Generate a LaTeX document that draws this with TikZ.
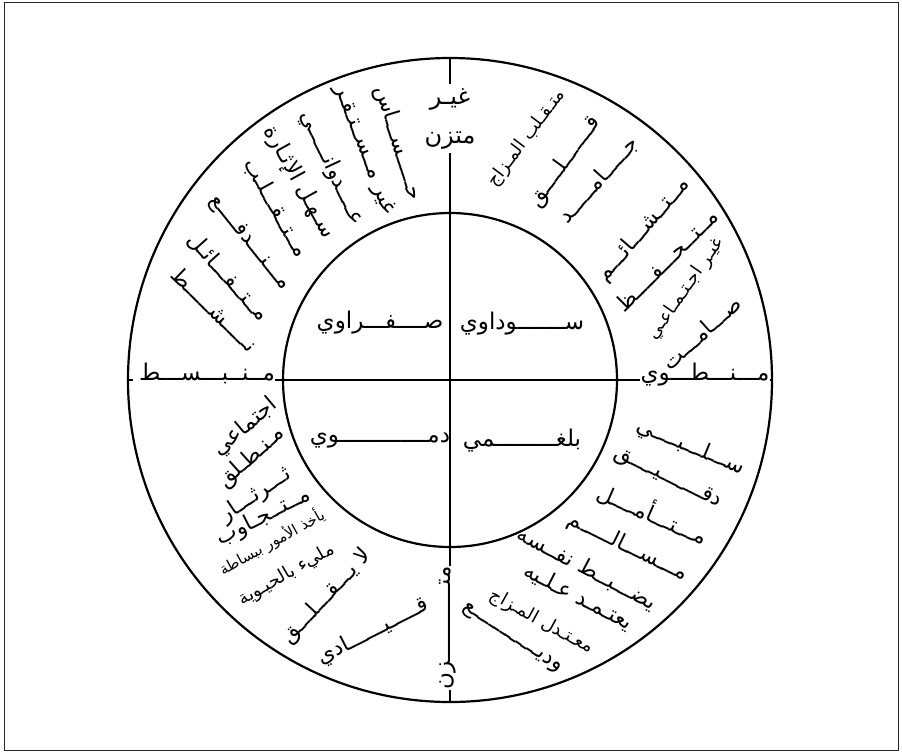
\documentclass[tikz,border=0pt]{standalone}
\usepackage{fontspec}
\newfontfamily\arfont[Script=Arabic]{DejaVu Sans}
\TeXXeTstate=1
\begin{document}
\begin{tikzpicture}[x=1pt,y=-1pt,
  ring/.style={draw, circle, line width=2.2pt, inner sep=0pt, outer sep=0pt},
  axis/.style={line width=1.8pt},
  wordA/.style={inner sep=0pt, font=\arfont\fontsize{22}{26}\selectfont},
  wordM/.style={inner sep=0pt, font=\arfont\fontsize{18}{22}\selectfont},
  wordS/.style={inner sep=0pt, font=\arfont\fontsize{15}{18}\selectfont},
  wordC/.style={inner sep=0pt, font=\arfont\fontsize{23}{27}\selectfont},
  wordT/.style={inner sep=0pt, font=\arfont\fontsize{24}{28}\selectfont},
]
\useasboundingbox (0,0) rectangle (902,753);
\draw[line width=1pt, black!85] (4,2) rectangle (898,750);

\node[ring, minimum size=644pt] (outer) at (450,380) {};
\node[ring, minimum size=334pt] (inner) at (450,380) {};

% axis labels
\node[wordT, anchor=base] (vt1) at (450,104) {\beginR غيـر\endR};
\node[wordT, anchor=base] (vt2) at (450,143) {\beginR متزن\endR};
\node[wordC, anchor=base, rotate=90] (vb) at (450,628) {\beginR متـــــــــــزن\endR};
\node[wordC, anchor=base] (hl) at (207,380) {\beginR مــنــبـــســـط\endR};
\node[wordC, anchor=base] (hr) at (705,380) {\beginR مـــنـــطـــوي\endR};

\draw[axis] (outer.north) -- ([yshift=4pt]vt1.north);
\draw[axis] ([yshift=-4pt]vt2.south) -- (vb.base east);
\draw[axis] (vb.base west) -- (outer.south);
\draw[axis] (outer.west) -- ([xshift=-6pt]hl.base west);
\draw[axis] (hl.base east) -- (hr.base west);
\draw[axis] (hr.base east) -- (outer.east);

% temperaments
\node[wordC] (q1) at (380,323) {\beginR صــــفـــراوي\endR};
\node[wordC] (q2) at (522,324) {\beginR ســـــــوداوي\endR};
\node[wordC] (q3) at (380,441) {\beginR دمـــــــــــــوي\endR};
\node[wordC] (q4) at (522,441) {\beginR بلغـــــــــمي\endR};

% top right
\node[wordM, rotate=53] (tr1) at (526.5,138.5) {\beginR متـقـلب المـزاج\endR};
\node[wordA, rotate=54] (tr2) at (565,161.5) {\beginR قـــــــلــــق\endR};
\node[wordA, rotate=48] (tr3) at (598.5,180) {\beginR جـــــامـــــد\endR};
\node[wordA, rotate=49] (tr4) at (643.5,230) {\beginR مــتــشـــائـــم\endR};
\node[wordA, rotate=45] (tr5) at (666.5,260) {\beginR مــتــحـــفــــظ\endR};
\node[wordM, rotate=55] (tr6) at (686,289) {\beginR غيـر اجـتـمـاعـي\endR};
\node[wordA, rotate=42] (tr7) at (701.5,332.5) {\beginR صـــامـــت\endR};

% top left
\node[wordA, rotate=-73] (tl1) at (398,143) {\beginR حـــــســـاس\endR};
\node[wordA, rotate=-69] (tl2) at (364,150) {\beginR غير مــســتـقـر\endR};
\node[wordA, rotate=-65] (tl3) at (332,168) {\beginR عــــدوانـــــي\endR};
\node[wordA, rotate=-61] (tl4) at (299,182) {\beginR سـهـل الإثـارة\endR};
\node[wordA, rotate=-61] (tl5) at (276,208) {\beginR مــتــقـــلـب\endR};
\node[wordA, rotate=-51] (tl6) at (250,243) {\beginR مـــنـــدفــــع\endR};
\node[wordA, rotate=-48] (tl7) at (228,277) {\beginR مــتــفـــائـل\endR};
\node[wordA, rotate=-44] (tl8) at (215,309) {\beginR نـــــشـــــط\endR};

% bottom left
\node[wordA, rotate=40] (bl1) at (245,427.5) {\beginR اجتماعي\endR};
\node[wordA, rotate=42] (bl2) at (251.7,457.5) {\beginR مـنـطـلق\endR};
\node[wordA, rotate=34] (bl3) at (255.8,495) {\beginR ثـــرثـــار\endR};
\node[wordA, rotate=27] (bl4) at (264,517) {\beginR مــتــجـاوب\endR};
\node[wordS, rotate=29] (bl5) at (271.7,541.7) {\beginR يأخذ الأمور ببساطة\endR};
\node[wordM, rotate=30] (bl6) at (286.7,575) {\beginR مليء بالحيـوية\endR};
\node[wordA, rotate=47] (bl7) at (326.7,596.7) {\beginR لا يـــقـــلـــق\endR};
\node[wordA, rotate=27] (bl8) at (373.3,631.7) {\beginR قـــــيــــــادي\endR};

% bottom right
\node[wordA, rotate=-22.6] (br1) at (691,447) {\beginR ســـلـــبــــي\endR};
\node[wordA, rotate=-25.8] (br2) at (668,478) {\beginR دقـــــــيــــق\endR};
\node[wordA, rotate=-23.6] (br3) at (653,513) {\beginR مـــتـــأمــــل\endR};
\node[wordA, rotate=-25.9] (br4) at (628,547) {\beginR مـــســـالـــــم\endR};
\node[wordA, rotate=-27.7] (br5) at (586.7,568.3) {\beginR يضـــبــط نفــسه\endR};
\node[wordA, rotate=-27.2] (br6) at (578.3,596.7) {\beginR يعتـمـد عـلـيه\endR};
\node[wordM, rotate=-28.8] (br7) at (541.7,621.7) {\beginR معـتـدل المـزاج\endR};
\node[wordA, rotate=-33.2] (br8) at (511.7,638.3) {\beginR وديــــــــــــع\endR};
\end{tikzpicture}
\end{document}
